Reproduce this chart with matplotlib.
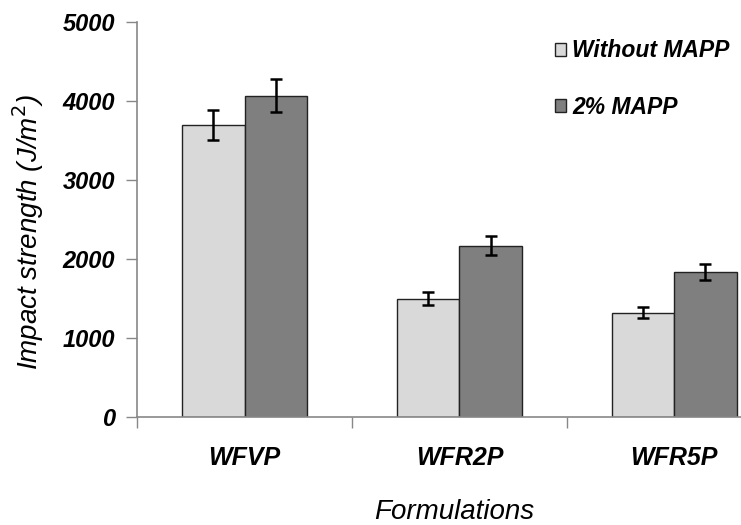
import matplotlib
matplotlib.use("Agg")
import matplotlib.pyplot as plt
import numpy as np

plt.rcParams['font.family'] = ['Liberation Sans', 'DejaVu Sans']

# data
formulations = ['WFVP', 'WFR2P', 'WFR5P']
series_names = ['Without MAPP', '2% MAPP']
without_mapp = [3700, 1500, 1320]
without_err = [190, 80, 70]
with_mapp = [4070, 2170, 1835]
with_err = [205, 120, 100]
y_ticks = [0, 1000, 2000, 3000, 4000, 5000]

fig = plt.figure(figsize=(7.41, 5.25), dpi=100)
# axes run past the right edge, like the cropped original
ax = fig.add_axes([0.185, 0.2057, 0.870, 0.752])

x = np.arange(len(formulations)) + 0.5
w = 0.29
err_kw = dict(ecolor='black', elinewidth=1.8, capsize=4.5, capthick=1.8)
ax.bar(x - w / 2, without_mapp, w, yerr=without_err, color='#d9d9d9',
       edgecolor='#222222', linewidth=1.0, label=series_names[0], error_kw=err_kw)
ax.bar(x + w / 2, with_mapp, w, yerr=with_err, color='#7f7f7f',
       edgecolor='#222222', linewidth=1.0, label=series_names[1], error_kw=err_kw)

ax.set_xlim(0, 3)
ax.set_ylim(0, 5000)
ax.set_yticks(y_ticks)
ax.set_yticklabels([str(v) for v in y_ticks], fontsize=17, fontweight='bold', style='italic')

# category boundaries get the tick marks, centres get the labels
ax.set_xticks([0, 1, 2, 3])
ax.set_xticklabels([])
ax.set_xticks(x, minor=True)
ax.set_xticklabels(formulations, minor=True, fontsize=18, fontweight='bold', style='italic')
ax.tick_params(axis='x', which='major', length=8, color='#888888', width=1)
ax.tick_params(axis='x', which='minor', length=0, pad=21)
ax.tick_params(axis='y', length=8, color='#888888', width=1, pad=8)

for side in ['top', 'right']:
    ax.spines[side].set_visible(False)
for side in ['left', 'bottom']:
    ax.spines[side].set_color('#888888')
    ax.spines[side].set_linewidth(1.2)

fig.text(0.038, 0.558, 'Impact strength (J/m$^{2}$)', fontsize=20, style='italic',
         rotation=90, ha='center', va='center')
fig.text(0.613, 0.025, 'Formulations', fontsize=20, style='italic', ha='center', va='center')

leg = fig.legend(loc='upper left', bbox_to_anchor=(0.749, 0.925), frameon=False,
                 borderaxespad=0, borderpad=0,
                 handlelength=0.5, handleheight=0.5, handletextpad=0.25,
                 labelspacing=1.45, prop=dict(size=16.5, weight='bold', style='italic'))

fig.savefig('out.png', dpi=100)
